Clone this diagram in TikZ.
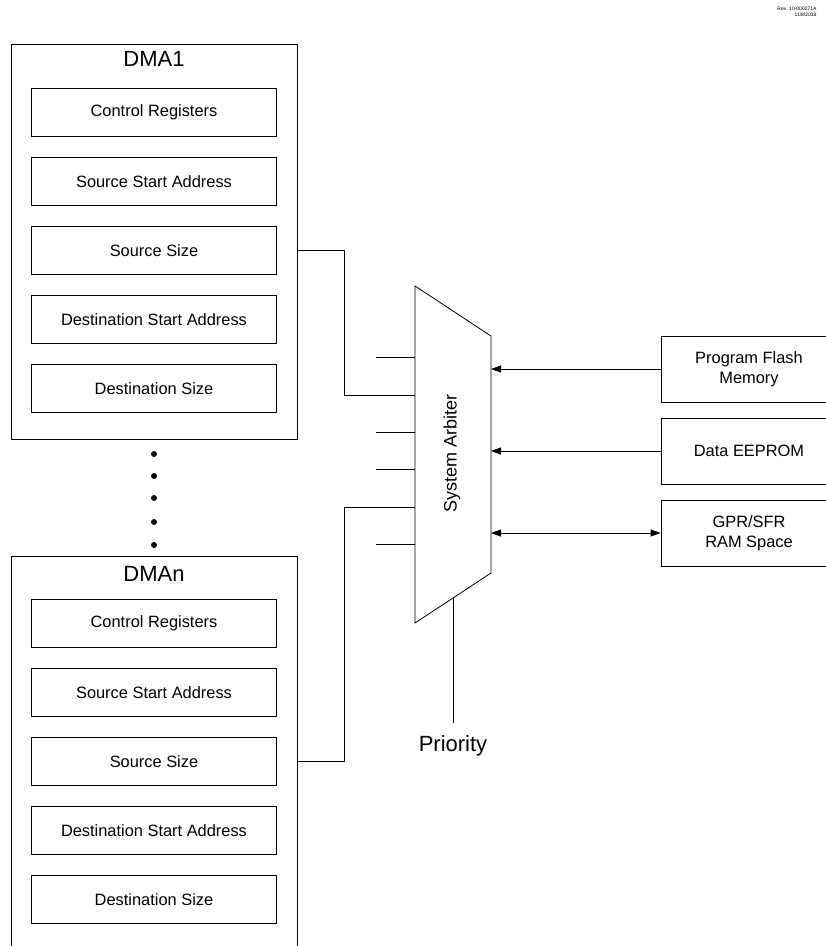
\documentclass[tikz,border=0pt]{standalone}
\usepackage{fontspec}
\setmainfont{Liberation Sans}
\usetikzlibrary{arrows.meta}

\begin{document}
\begin{tikzpicture}[
    x=1pt, y=-1pt,
    dmabox/.style={draw, line width=0.9pt, rectangle, anchor=north west, minimum width=286pt},
    regbox/.style={draw, line width=0.8pt, rectangle, align=center, minimum width=245pt, minimum height=48pt, font=\fontsize{16.4}{19}\selectfont},
    membox/.style={draw, line width=0.8pt, rectangle, align=center, minimum width=176pt, minimum height=66pt, font=\fontsize{16.4}{20}\selectfont},
    title/.style={font=\fontsize{22}{25}\selectfont},
    line/.style={draw, line width=0.8pt},
    arr/.style={line, -{Triangle[length=10pt,width=7pt]}},
    biarr/.style={line, {Triangle[length=10pt,width=7pt]}-{Triangle[length=10pt,width=7pt]}}
]
\useasboundingbox (0,0) rectangle (826,946);
\clip (0,0) rectangle (826,946);

\node[font=\fontsize{5}{6}\selectfont, align=right, anchor=north east] (rev) at (820,3) {Rev. 10-000271A\\11/8/2018};

\node[dmabox, minimum height=395pt] (dma1) at (11,44) {};
\node[title] (dma1t) at (154,59) {DMA1};
\node[dmabox, minimum height=420pt] (dman) at (11,556) {};
\node[title] (dmant) at (154,574) {DMAn};

\foreach \lbl [count=\i] in {Control Registers, Source Start Address, Source Size, Destination Start Address, Destination Size} {
  \node[regbox] (dmaA\i) at (154,112.5+69*\i-69) {\lbl};
  \node[regbox] (dmaN\i) at (154,623.5+69*\i-69) {\lbl};
}

\foreach \y in {454,476,498,522,545}
  \fill (154,\y) circle (3pt);

\coordinate (arbTL) at (415,286);
\coordinate (arbTR) at (491,336);
\coordinate (arbBR) at (491,573);
\coordinate (arbBL) at (415,623);
\draw[line] (arbTL) -- (arbTR) -- (arbBR) -- (arbBL) -- cycle;
\node[rotate=90, font=\fontsize{18}{21}\selectfont] (arb) at (452,453) {System Arbiter};

\coordinate (arbIn2) at (415,395);
\coordinate (arbIn5) at (415,507);
\foreach \y in {357,432,469,544} {
  \coordinate (stub\y) at (376,\y);
  \draw[line] (stub\y) -- (stub\y -| arbTL);
}
\draw[line] (dmaA3.east -| dma1.east) -- ++(46,0) |- (arbIn2);
\draw[line] (dmaN3.east -| dman.east) -- ++(46,0) |- (arbIn5);

\node[membox] (flash) at (749,369) {Program Flash\\Memory};
\node[membox] (eeprom) at (749,451) {Data EEPROM};
\node[membox] (ram) at (749,533) {GPR/SFR\\RAM Space};

\draw[arr] (flash.west) -- (flash.west -| arbTR);
\draw[arr] (eeprom.west) -- (eeprom.west -| arbTR);
\draw[biarr] (ram.west) -- (ram.west -| arbTR);

\path (arbBL) -- coordinate[pos=0.5] (arbBot) (arbBR);
\node[title] (prio) at (453,746) {Priority};
\draw[line] (arbBot) -- ([yshift=9pt]prio.north);

\end{tikzpicture}
\end{document}
